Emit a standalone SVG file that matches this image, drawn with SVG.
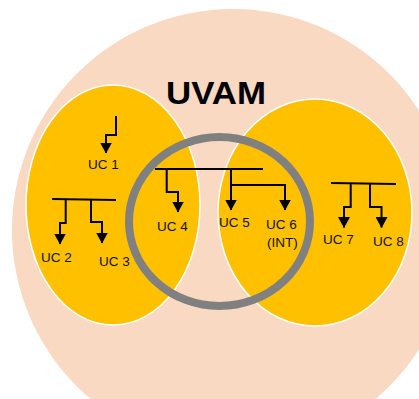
<svg xmlns="http://www.w3.org/2000/svg" width="419" height="399" viewBox="0 0 419 399">
<defs>
<style>
.bg{fill:#fff}
.uvam{fill:#F9D9C1}
.zone{fill:#FFC000;stroke:#fff;stroke-width:1.5}
.ring{fill:none;stroke:#808080;stroke-width:8}
.w{fill:none;stroke:#000;stroke-width:2}
.lbl{font-family:"Liberation Sans",Arial,sans-serif;font-size:13.5px;fill:#111}
.title{font-family:"Liberation Sans",Arial,sans-serif;font-size:32px;font-weight:bold;fill:#000}
</style>
<marker id="ah" viewBox="0 0 11 12" refX="10.5" refY="6" markerWidth="11" markerHeight="12" orient="auto" markerUnits="userSpaceOnUse">
<path d="M0,0 L11,6 L0,12 Z" fill="#000"/>
</marker>
</defs>
<rect class="bg" width="419" height="399"/>
<g id="uvam">
<circle class="uvam" cx="233" cy="230" r="221"/>
<text class="title" x="166" y="104" textLength="100" lengthAdjust="spacingAndGlyphs">UVAM</text>
</g>
<g id="zone-left"><ellipse class="zone" cx="113" cy="205" rx="87" ry="120"/></g>
<g id="zone-right"><ellipse class="zone" cx="315" cy="212.5" rx="97" ry="113.5"/></g>
<g id="ring"><ellipse class="ring" cx="219.5" cy="221.5" rx="90.5" ry="84.5"/></g>
<g id="connectors">
<polyline class="w" points="116,116 116,135 106,135 106,153" marker-end="url(#ah)"/>
<line class="w" x1="52" y1="199" x2="116" y2="200"/>
<polyline class="w" points="65.7,199.5 65.7,223 60,223 60,244" marker-end="url(#ah)"/>
<polyline class="w" points="91,199.5 91,222 102,222 102,243" marker-end="url(#ah)"/>
<line class="w" x1="155" y1="169" x2="263" y2="169"/>
<polyline class="w" points="166.7,169 166.7,192 178,192 178,212" marker-end="url(#ah)"/>
<polyline class="w" points="231,169 231,210" marker-end="url(#ah)"/>
<polyline class="w" points="231,185 285,185 285,210" marker-end="url(#ah)"/>
<line class="w" x1="331" y1="183" x2="396" y2="184"/>
<polyline class="w" points="350.7,183.5 350.7,207 344,207 344,227.5" marker-end="url(#ah)"/>
<polyline class="w" points="370,183.5 370,207 381.5,207 381.5,227.5" marker-end="url(#ah)"/>
</g>
<g id="uc1"><text class="lbl" x="88" y="169">UC 1</text></g>
<g id="uc2"><text class="lbl" x="41" y="262">UC 2</text></g>
<g id="uc3"><text class="lbl" x="99" y="266">UC 3</text></g>
<g id="uc4"><text class="lbl" x="157" y="231">UC 4</text></g>
<g id="uc5"><text class="lbl" x="219" y="227">UC 5</text></g>
<g id="uc6"><text class="lbl" x="266" y="229">UC 6</text><text class="lbl" x="267" y="247">(INT)</text></g>
<g id="uc7"><text class="lbl" x="323" y="244">UC 7</text></g>
<g id="uc8"><text class="lbl" x="373" y="246">UC 8</text></g>
</svg>
